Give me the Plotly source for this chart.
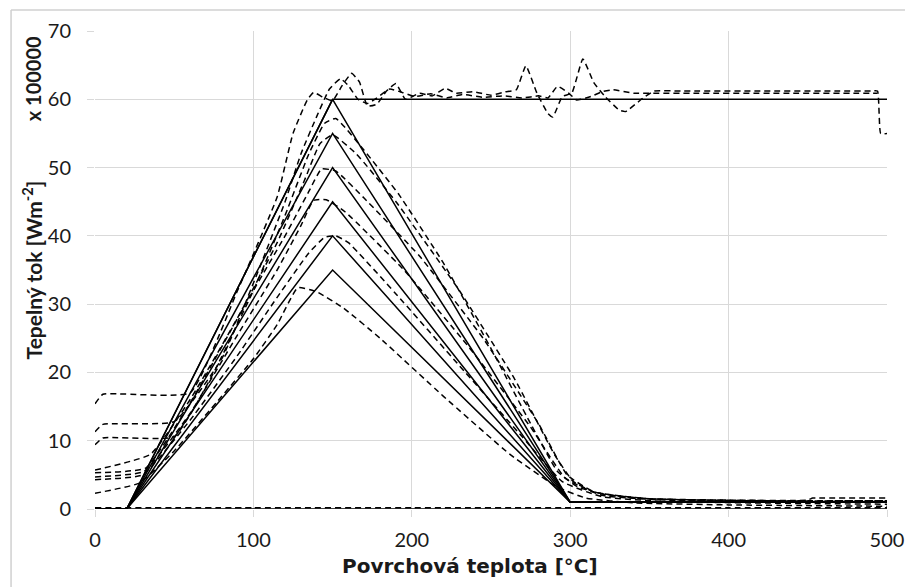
import plotly.graph_objects as go

# ---- data (heat flux, x 100000 W/m^2, versus surface temperature in °C) ----
# prescribed (solid) boundary curves
tri_x = [0, 20, 150, 300, 500]
tri_peaks = [35, 40, 45, 50, 55, 60]
tri_end = 1.0
step_x = [0, 20, 150, 500]
step_y = [0, 0, 60, 60]
zero_x = [0, 500]
zero_y = [0, 0]

# reconstructed (dashed) curves
d35_x = [0, 28, 50, 80, 100, 115, 128, 140, 157, 180, 220, 262, 292, 310, 340, 400, 500]
d35_y = [2.3, 3.8, 8.5, 16.5, 22, 27, 32.4, 31.8, 29.4, 25, 16.5, 8, 3.2, 1.6, 0.9, 0.6, 0.4]

d40_x = [0, 30, 60, 90, 115, 135, 145, 152, 160, 190, 230, 270, 295, 320, 360, 450, 500]
d40_y = [4.3, 5.0, 13, 22.5, 31, 37.5, 39.8, 40, 39, 31.5, 21, 10.5, 4, 1.8, 1.1, 0.8, 0.7]

d45_x = [0, 31, 60, 90, 115, 130, 138, 146, 158, 195, 235, 275, 297, 320, 360, 420, 500]
d45_y = [4.7, 5.5, 14, 25.5, 35, 41.5, 45.2, 45.3, 43.5, 35, 24, 12, 4.5, 2, 1.3, 1.1, 1.0]

d50_x = [0, 32, 60, 95, 120, 135, 143, 152, 170, 205, 245, 280, 298, 315, 350, 420, 500]
d50_y = [5.3, 6, 15.5, 30, 40, 46.5, 49.8, 49.5, 45.5, 37, 25, 12.5, 5, 2.5, 1.5, 1.2, 1.2]

d55_x = [0, 35, 60, 90, 115, 132, 142, 150, 165, 190, 230, 265, 290, 302, 315, 340, 380, 450, 500]
d55_y = [5.7, 8, 16, 28, 39, 48, 53.5, 54.8, 52, 45, 32, 19, 8, 4, 2.5, 1.6, 1.3, 1.2, 1.2]

d60_x = [0, 5, 50, 75, 100, 120, 135, 145, 152, 170, 192, 220, 250, 275, 292, 305, 320, 350,
         400, 450, 453, 456, 500]
d60_y = [9.4, 10.4, 10.6, 20, 32, 43, 52, 56.5, 57.2, 52.5, 46, 36, 23.5, 12.5, 5.5, 3.2, 2.2, 1.5,
         1.3, 1.3, 1.6, 1.6, 1.6]

da_x = [0, 5, 60, 90, 115, 125, 134, 138, 144, 150, 156, 162, 167, 172, 178, 184, 190, 196,
        205, 213, 221, 228, 239, 250, 259, 266, 272, 279, 286, 289, 295, 301, 308, 315, 322,
        331, 335, 346, 353, 370, 420, 470, 490, 494, 496, 500]
da_y = [15.4, 16.8, 17, 32, 45.7, 55, 59.9, 61, 60.3, 59.8, 62, 63.8, 62.5, 59, 59.3, 61.2, 62.3, 60,
        60.9, 60.5, 61.6, 60.9, 61.1, 60.6, 61.1, 61.4, 64.9, 60.9, 57.9, 57.4, 60.4, 60.9, 65.9, 62.4, 60.4,
        58.4, 58.2, 60.2, 61.2, 61.2, 61.2, 61.2, 61.2, 61.2, 55, 55]

db_x = [0, 5, 50, 80, 105, 120, 130, 140, 148, 155, 160, 166, 172, 178, 186, 194, 202, 212, 222,
        232, 245, 258, 270, 280, 286, 292, 299, 304, 313, 320, 327, 340, 380, 440, 480, 494]
db_y = [11.3, 12.4, 12.8, 22, 36, 45, 52, 57.5, 61.5, 63, 62, 60, 59.4, 60.2, 61.5, 61, 60.4, 60.8, 60.2,
        60.7, 60.3, 60.5, 60.2, 60.5, 60.2, 61.9, 60.9, 59.9, 60.4, 61.1, 61.4, 60.9, 60.9, 60.9, 60.9, 60.9]

dz_x = [0, 100, 200, 300, 400, 500]
dz_y = [0.2, 0.2, 0.2, 0.2, 0.2, 0.2]

x_ticks = [0, 100, 200, 300, 400, 500]
y_ticks = [0, 10, 20, 30, 40, 50, 60, 70]

FONT = "Lato"
solid = dict(color="black", width=1.5)
dashed = dict(color="black", width=1.5, dash="6px,4px", shape="spline", smoothing=0.4)

fig = go.Figure()

fig.add_trace(go.Scatter(x=zero_x, y=zero_y, mode="lines", line=solid))
for p in tri_peaks:
    fig.add_trace(go.Scatter(x=tri_x, y=[0, 0, p, tri_end, tri_end], mode="lines", line=solid))
fig.add_trace(go.Scatter(x=step_x, y=step_y, mode="lines", line=solid))

for xs, ys in [(dz_x, dz_y), (d35_x, d35_y), (d40_x, d40_y), (d45_x, d45_y), (d50_x, d50_y),
               (d55_x, d55_y), (d60_x, d60_y), (da_x, da_y), (db_x, db_y)]:
    fig.add_trace(go.Scatter(x=xs, y=ys, mode="lines", line=dashed))

grid = "#d9d9d9"
axis_common = dict(showgrid=True, gridcolor=grid, gridwidth=1, zeroline=False, showline=False,
                   ticks="outside", ticklen=7, tickcolor=grid, automargin=False,
                   tickfont=dict(family=FONT, size=20, color="#1a1a1a"))
fig.update_layout(
    width=905, height=587,
    margin=dict(l=95, r=18, t=31, b=78),
    paper_bgcolor="white", plot_bgcolor="white",
    showlegend=False,
    font=dict(family=FONT, size=19, color="#1a1a1a"),
    xaxis=dict(range=[0, 500], tickvals=x_ticks, ticklabelstandoff=6, **axis_common),
    yaxis=dict(range=[0, 70], tickvals=y_ticks, ticklabelstandoff=12, **axis_common),
    annotations=[
        dict(text="<b>Tepelný tok [Wm<sup>-2</sup>]</b>", xref="paper", yref="paper",
             x=-0.079, y=0.5, xanchor="center", yanchor="middle", textangle=-90,
             showarrow=False, font=dict(family=FONT, size=21)),
        dict(text="<b>x 100000</b>", xref="paper", yref="paper",
             x=-0.079, y=0.9, xanchor="center", yanchor="middle", textangle=-90,
             showarrow=False, font=dict(family=FONT, size=20)),
        dict(text="<b>Povrchová teplota [°C]</b>", xref="paper", yref="paper",
             x=0.473, y=-0.119, xanchor="center", yanchor="middle",
             showarrow=False, font=dict(family="DejaVu Sans", size=20)),
    ],
    shapes=[
        dict(type="line", xref="paper", yref="paper", x0=-0.106, x1=-0.106, y0=-0.2, y1=1.044,
             line=dict(color="#d0d0d0", width=1.5)),
        dict(type="line", xref="paper", yref="paper", x0=-0.106, x1=1.05, y0=1.044, y1=1.044,
             line=dict(color="#d0d0d0", width=1.5)),
    ],
)

fig.write_html("out.html")
